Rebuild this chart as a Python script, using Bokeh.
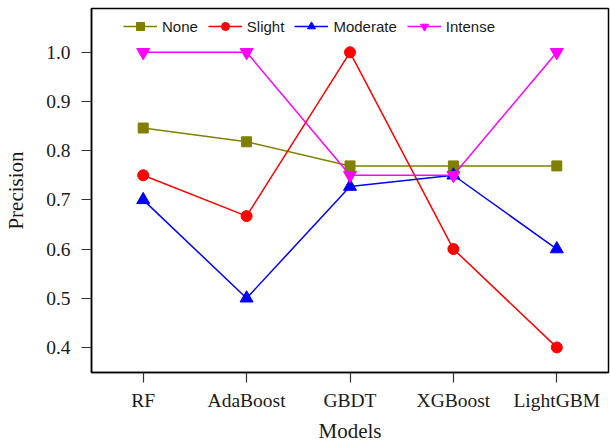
from bokeh.plotting import figure
from bokeh.models import Range1d, FixedTicker, Legend, LegendItem, PrintfTickFormatter
from bokeh.embed import file_html
from bokeh.resources import INLINE

models = ["RF", "AdaBoost", "GBDT", "XGBoost", "LightGBM"]
none_vals = [0.846, 0.818, 0.769, 0.769, 0.769]
slight_vals = [0.75, 0.667, 1.0, 0.6, 0.4]
moderate_vals = [0.7, 0.5, 0.727, 0.75, 0.6]
intense_vals = [1.0, 1.0, 0.75, 0.75, 1.0]
y_ticks = [0.4, 0.5, 0.6, 0.7, 0.8, 0.9, 1.0]

p = figure(width=610, height=445, x_range=models, y_range=Range1d(0.349, 1.089),
           output_backend="svg", toolbar_location=None,
           min_border_left=91, min_border_right=2, min_border_top=8, min_border_bottom=73)
p.x_range.range_padding = 0
p.grid.visible = False
p.outline_line_color = "black"
p.outline_line_width = 1.5
p.background_fill_color = "white"
p.border_fill_color = "white"

serif = "Liberation Serif"
for ax in (p.xaxis[0], p.yaxis[0]):
    ax.axis_line_color = "black"
    ax.axis_line_width = 1.5
    ax.major_tick_line_color = "#333333"
    ax.major_tick_line_width = 1.2
    ax.major_tick_out = 10
    ax.major_tick_in = 0
    ax.minor_tick_line_color = None
    ax.major_label_text_font = serif
    ax.major_label_text_font_size = "19.5px"
    ax.major_label_text_color = "#1a1a1a"
    ax.axis_label_text_font = serif
    ax.axis_label_text_font_size = "21px"
    ax.axis_label_text_font_style = "normal"
    ax.axis_label_text_color = "#1a1a1a"

p.yaxis.ticker = FixedTicker(ticks=y_ticks)
p.yaxis.formatter = PrintfTickFormatter(format="%.1f")
p.yaxis.axis_label = "Precision"
p.xaxis.axis_label = "Models"
p.xaxis.major_label_standoff = 7
p.xaxis.axis_label_standoff = 5
p.yaxis.major_label_standoff = 11
p.yaxis.axis_label_standoff = 15

series = [
    ("None", none_vals, "#808000", "square", 10),
    ("Slight", slight_vals, "#ff0000", "circle", 11),
    ("Moderate", moderate_vals, "#0000ff", "triangle", 13),
    ("Intense", intense_vals, "#ff00ff", "inverted_triangle", 13),
]
items = []
for name, vals, color, marker, size in series:
    l = p.line(models, vals, line_color=color, line_width=1.5)
    s = p.scatter(models, vals, marker=marker, size=size, fill_color=color, line_color=color)
    items.append(LegendItem(label=name, renderers=[l, s]))

legend = Legend(items=items, orientation="horizontal", location=(32, 336),
                border_line_color=None, background_fill_alpha=0,
                label_text_font="Liberation Sans", label_text_font_size="15px",
                label_text_color="#1a1a1a",
                glyph_width=34, label_standoff=5, spacing=10, padding=4, margin=0)
p.add_layout(legend, "center")

open("out.html", "w").write(file_html(p, INLINE))
